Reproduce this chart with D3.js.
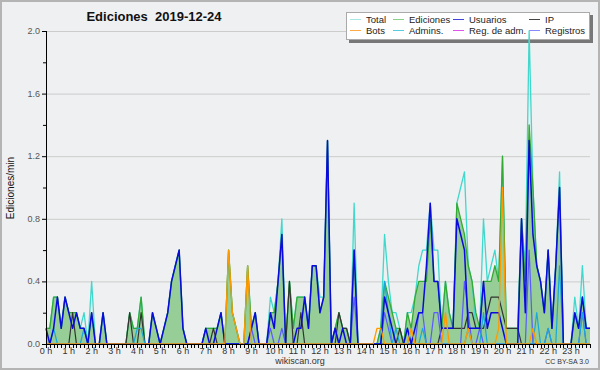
<!DOCTYPE html>
<html>
<head>
<meta charset="utf-8">
<script src="https://cdn.jsdelivr.net/npm/d3@7/dist/d3.min.js"></script>
<style>
  body { margin: 0; background: #eff0f1; }
  svg { display: block; }
  text { font-family: "Liberation Sans", Arial, sans-serif; }
</style>
</head>
<body>
<div id="viz"></div>
<script>
// 10-minute slots, 6 per hour, values in edits/min
const hourLabels = ["0 h","1 h","2 h","3 h","4 h","5 h","6 h","7 h","8 h","9 h","10 h","11 h",
  "12 h","13 h","14 h","15 h","16 h","17 h","18 h","19 h","20 h","21 h","22 h","23 h"]
const yTicks = [0, 0.4, 0.8, 1.2, 1.6, 2.0]

const total = [
  0.1,0.1,0.3,0.3,0.1,0.3, 0.2,0.2,0.2,0.1,0.2,0, 0.4,0,0,0.2,0,0, 0,0,0,0,0.2,0.1,
  0.1,0.3,0,0,0.2,0.1, 0,0.1,0.2,0.4,0.5,0.6, 0.1,0,0,0,0,0, 0.1,0.1,0.1,0.1,0.2,0,
  0.6,0.2,0.1,0,0,0.5, 0.1,0.2,0,0,0,0.3, 0.2,0.4,0.8,0,0.4,0.1, 0.3,0.3,0.3,0.1,0.5,0.5,
  0.3,0.3,1.3,0,0.1,0.2, 0.1,0.1,0,0.9,0,0, 0,0,0,0,0.1,0.7, 0.4,0.2,0.2,0.1,0,0.2,
  0.2,0.3,0.5,0.6,0.6,0.9, 0.6,0.6,0.1,0.4,0.2,0.1, 0.9,1.0,1.1,0.5,0.4,0.1, 0.1,0.8,0.4,0.5,0.6,0.4,
  1.2,0.1,0.1,0.1,0.1,0.8, 0.5,2.0,1.0,0.5,0.4,0.2, 0.6,0.1,0.5,1.1,0,0, 0,0.3,0.1,0.5,0.1,0.1
]
const ediciones = [
  0.1,0.1,0.3,0.3,0.1,0.3, 0.2,0.2,0.2,0.1,0.1,0, 0.2,0,0,0.2,0,0, 0,0,0,0,0.2,0.1,
  0.1,0.3,0,0,0.2,0.1, 0,0.1,0.2,0.4,0.5,0.6, 0.1,0,0,0,0,0, 0.1,0.1,0.1,0.1,0.2,0,
  0.6,0.2,0.1,0,0,0.5, 0.1,0.2,0,0,0,0.2, 0.2,0.4,0.7,0,0.4,0.1, 0.3,0.3,0.3,0.1,0.5,0.5,
  0.2,0.3,1.3,0,0.1,0.2, 0.1,0.1,0,0.6,0,0, 0,0,0,0,0.1,0.4, 0.3,0.2,0.1,0.1,0,0.2,
  0.1,0.3,0.4,0.4,0.4,0.8, 0.4,0.4,0.1,0.4,0.2,0.1, 0.9,0.8,0.7,0.5,0.4,0.2, 0.1,0.4,0.4,0.4,0.5,0.4,
  1.2,0.1,0.1,0.1,0.1,0.8, 0.4,1.4,1.0,0.5,0.4,0.2, 0.6,0.1,0.5,1.0,0,0, 0,0.2,0.1,0.3,0.1,0.1
]
const usuarios = [
  0.1,0,0.1,0.3,0.1,0.3, 0.2,0.1,0.2,0.1,0.1,0, 0.2,0,0,0.2,0,0, 0,0,0,0,0,0,
  0,0,0,0,0.2,0.1, 0,0.1,0.2,0.4,0.5,0.6, 0.1,0,0,0,0,0, 0.1,0,0,0.1,0.2,0,
  0,0,0,0,0,0, 0.1,0.2,0,0,0,0.2, 0.1,0.4,0.7,0,0,0, 0.1,0.1,0.3,0.1,0.5,0.5,
  0.2,0.3,1.3,0,0.1,0, 0.1,0,0,0.6,0,0, 0,0,0,0,0,0.3, 0.2,0.1,0,0,0,0.1,
  0,0.1,0.2,0.2,0.5,0.9, 0.4,0.4,0.1,0.1,0.1,0.1, 0.8,0.7,0.6,0.1,0.1,0.1, 0.1,0.4,0.1,0.2,0.2,0.2,
  0.1,0,0,0,0,0.8, 0.2,1.3,0.7,0.5,0.4,0.2, 0.6,0.1,0.5,1.0,0,0, 0,0.2,0.1,0.3,0.1,0.1
]
const ip = [
  0,0,0,0,0,0, 0,0.2,0,0,0,0, 0,0,0,0,0,0, 0,0,0,0,0.2,0,
  0,0.2,0,0,0,0, 0,0,0,0,0,0, 0,0,0,0,0,0, 0,0,0.1,0,0,0,
  0,0,0,0,0,0, 0,0,0,0,0,0, 0,0,0,0,0.4,0, 0,0.2,0,0,0,0,
  0,0,0,0,0,0.2, 0.1,0.1,0,0,0,0, 0,0,0,0,0,0, 0,0,0,0.1,0,0,
  0,0,0,0,0,0, 0,0,0.1,0.1,0.1,0.1, 0.1,0.1,0.1,0.2,0.2,0.1, 0.1,0.1,0.2,0.3,0.3,0.3,
  0.2,0.1,0.1,0.1,0.1,0, 0,0,0,0,0,0, 0,0,0,0,0,0, 0,0,0,0,0,0
]
const bots = [
  0,0,0,0,0,0, 0,0,0,0,0,0, 0,0,0,0,0,0, 0,0,0,0,0,0,
  0,0,0,0,0,0, 0,0,0,0,0,0, 0,0,0,0,0,0, 0,0,0,0,0,0,
  0.6,0.2,0.1,0,0,0.5, 0,0,0,0,0,0, 0,0,0,0,0,0, 0,0,0,0,0,0,
  0,0,0,0,0,0, 0,0,0,0,0,0, 0,0,0,0.1,0.1,0, 0,0,0,0,0,0,
  0.1,0,0,0,0,0, 0,0,0,0.2,0,0, 0,0,0,0.1,0,0, 0,0,0,0,0,0.1,
  1.0,0,0,0,0,0, 0,0,0.1,0,0,0, 0,0,0,0,0,0, 0,0,0,0,0,0
]
const admins = [
  0,0,0.1,0,0,0, 0,0,0,0,0.1,0, 0,0,0,0,0,0, 0,0,0,0,0,0,
  0.1,0.1,0,0,0,0, 0,0,0,0,0,0, 0,0,0,0,0,0, 0,0,0,0,0,0,
  0,0,0,0,0,0, 0,0,0,0,0,0, 0,0,0,0,0,0, 0,0,0,0,0,0,
  0,0,0,0,0,0, 0,0,0,0,0,0, 0,0,0,0,0,0.4, 0.2,0,0.1,0,0,0.1,
  0,0,0,0.1,0,0, 0,0,0,0,0,0, 0,0,0,0.1,0,0, 0,0.2,0,0,0,0,
  0,0,0,0,0,0, 0,0,0,0.2,0,0, 0.1,0,0,0.5,0,0, 0,0,0,0.2,0,0
]
const registros = [
  0,0,0,0,0,0, 0,0,0,0,0,0, 0,0,0,0,0,0, 0,0,0,0,0,0,
  0,0,0,0,0,0, 0,0,0,0,0,0, 0,0,0,0,0,0, 0,0,0,0,0,0,
  0,0,0,0,0,0, 0.1,0,0,0,0,0.1, 0,0,0.1,0,0,0, 0,0,0,0,0,0,
  0,0,0,0,0.1,0, 0,0,0,0.3,0,0, 0,0,0,0,0,0.2, 0.1,0,0,0,0,0,
  0,0,0.2,0.2,0,0, 0.2,0.2,0,0,0,0, 0,0,0.4,0.2,0,0, 0.1,0,0,0,0,0,
  0,0,0,0,0,0, 0,0.6,0,0,0,0, 0.1,0,0,0,0,0, 0,0,0,0.2,0,0
]

const legendItems = [
  { name: "Total", color: "#a8e8e0" }, { name: "Ediciones", color: "#88d088" },
  { name: "Usuarios", color: "#4444dd" }, { name: "IP", color: "#444444" },
  { name: "Bots", color: "#ffaa44" }, { name: "Admins.", color: "#55ccdd" },
  { name: "Reg. de adm.", color: "#dd55ee" }, { name: "Registros", color: "#8888ff" }
]

const width = 600
const height = 370

const svg = d3.select("#viz").append("svg")
  .attr("width", width)
  .attr("height", height)

svg.append("rect")
  .attr("x", 1).attr("y", 1).attr("width", width - 2).attr("height", height - 2)
  .attr("fill", "#eff0f1").attr("stroke", "#b4b4b4").attr("stroke-width", 2)

const x = d3.scaleLinear().domain([0, 143]).range([46, 590])
const y = d3.scaleLinear().domain([0, 2]).range([344, 31])

// grid
svg.append("g").selectAll("line")
  .data(yTicks.slice(1))
  .enter().append("line")
  .attr("x1", 46).attr("x2", 590)
  .attr("y1", d => y(d) + 0.5).attr("y2", d => y(d) + 0.5)
  .attr("stroke", "#cccccc")

// title
svg.append("text")
  .attr("x", 154).attr("y", 21)
  .attr("text-anchor", "middle")
  .attr("font-size", 13).attr("font-weight", "bold")
  .attr("fill", "#111")
  .style("white-space", "pre")
  .text("Ediciones  2019-12-24")

// legend box
const lg = svg.append("g")
lg.append("rect").attr("x", 349).attr("y", 15).attr("width", 244).attr("height", 28).attr("fill", "#777")
lg.append("rect").attr("x", 346.5).attr("y", 12.5).attr("width", 243).attr("height", 27)
  .attr("fill", "#fff").attr("stroke", "#aaa")
const colX = [350, 393, 453, 529]
legendItems.forEach((d, i) => {
  const cx = colX[i % 4]
  const cy = i < 4 ? 19.5 : 30.5
  lg.append("line").attr("x1", cx).attr("x2", cx + 11).attr("y1", cy).attr("y2", cy)
    .attr("stroke", d.color)
  lg.append("text").attr("x", cx + 16).attr("y", cy + 3.3)
    .attr("font-size", 9.5).attr("fill", "#222").text(d.name)
})

// series
const idx = d3.range(144)
const line = arr => d3.line().x(i => x(i)).y(i => y(arr[i]))(idx)

svg.append("path")
  .attr("d", d3.area().x(i => x(i)).y0(y(0)).y1(i => y(ediciones[i]))(idx))
  .attr("fill", "#97cd97")

const series = [
  { data: total, color: "#40d8cc", w: 1.3 },
  { data: ediciones, color: "#33aa33", w: 1.3 },
  { data: ip, color: "#333333", w: 1.2 },
  { data: registros, color: "#5a5aff", w: 1.2 },
  { data: admins, color: "#1aa8d8", w: 1.2 },
  { data: usuarios, color: "#0a0add", w: 1.5 },
  { data: bots, color: "#ff9900", w: 1.3 }
]
series.forEach(s => {
  svg.append("path").attr("d", line(s.data))
    .attr("fill", "none").attr("stroke", s.color)
    .attr("stroke-width", s.w).attr("stroke-linejoin", "round")
})

// axes
const yAxis = svg.append("g")
yAxis.append("line").attr("x1", 46.5).attr("x2", 46.5).attr("y1", 31).attr("y2", 344).attr("stroke", "#000")
yAxis.selectAll(".maj").data(yTicks).enter().append("line")
  .attr("x1", 42).attr("x2", 46).attr("y1", d => y(d) + 0.5).attr("y2", d => y(d) + 0.5).attr("stroke", "#000")
yAxis.selectAll(".min").data(yTicks.slice(1)).enter().append("line")
  .attr("x1", 43).attr("x2", 46).attr("y1", d => y(d - 0.2) + 0.5).attr("y2", d => y(d - 0.2) + 0.5).attr("stroke", "#000")
yAxis.selectAll("text").data(yTicks).enter().append("text")
  .attr("x", 40).attr("y", d => y(d) + 3)
  .attr("text-anchor", "end").attr("font-size", 9).attr("fill", "#555")
  .text(d => d.toFixed(1))

const xAxis = svg.append("g")
xAxis.append("line").attr("x1", 46).attr("x2", 591).attr("y1", 344.5).attr("y2", 344.5).attr("stroke", "#000")
xAxis.selectAll(".t").data(idx).enter().append("line")
  .attr("x1", i => Math.round(x(i)) + 0.5).attr("x2", i => Math.round(x(i)) + 0.5)
  .attr("y1", 344).attr("y2", 348).attr("stroke", "#000")
xAxis.selectAll("text").data(hourLabels).enter().append("text")
  .attr("x", (d, i) => x(i * 6)).attr("y", 354)
  .attr("text-anchor", "middle").attr("font-size", 9).attr("fill", "#333")
  .text(d => d)

svg.append("text")
  .attr("transform", "translate(14,188) rotate(-90)")
  .attr("text-anchor", "middle")
  .attr("font-family", "DejaVu Sans Mono, monospace")
  .attr("font-size", 10).attr("fill", "#111")
  .text("Ediciones/min")

svg.append("text").attr("x", 300).attr("y", 364).attr("text-anchor", "middle")
  .attr("font-size", 9).attr("fill", "#333").text("wikiscan.org")
svg.append("text").attr("x", 589).attr("y", 364).attr("text-anchor", "end")
  .attr("font-size", 7).attr("fill", "#333").text("CC BY-SA 3.0")
</script>
</body>
</html>
